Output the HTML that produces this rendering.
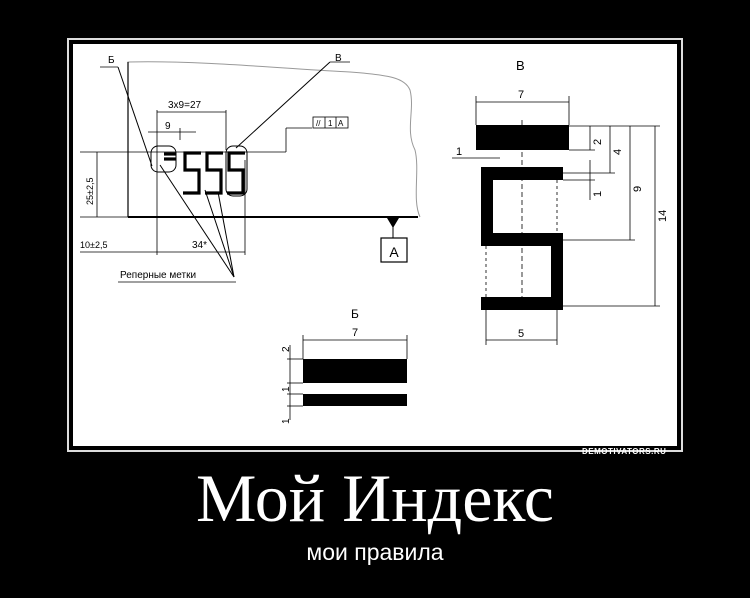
<!DOCTYPE html>
<html><head><meta charset="utf-8"><style>
html,body{margin:0;padding:0;background:#000;width:750px;height:598px;overflow:hidden}
.t{position:absolute;left:0;width:750px;text-align:center;color:#fff;white-space:nowrap}
</style></head><body>
<div style="position:absolute;left:67px;top:38px;width:612px;height:410px;border:2px solid #ddd;"></div>
<div style="position:absolute;left:73px;top:44px;width:604px;height:402px;background:#fff;"></div>
<div style="position:absolute;left:582px;top:447px;font:bold 8px 'Liberation Sans',sans-serif;color:#fff;letter-spacing:0.5px">DEMOTIVATORS.RU</div>
<svg style="position:absolute;left:0;top:0" width="750" height="598" font-family="Liberation Sans, sans-serif" fill="none" stroke="#000">
<path d="M128 217 V62 C200 60 300 70 350 72 C390 75 405 78 410 90 C415 110 405 130 415 150 C420 170 412 200 420 217" stroke="#999" stroke-width="1"/>
<line x1="128" y1="62" x2="128" y2="217" stroke-width="1.2"/>
<line x1="128" y1="217" x2="418" y2="217" stroke-width="2"/>
<path d="M387 217 L399 217 L393 227 Z" fill="#000"/>
<line x1="393" y1="227" x2="393" y2="238"/>
<rect x="381" y="238" width="26" height="24" stroke-width="1.2"/>
<text x="394" y="257" font-size="14" fill="#000" stroke="none" text-anchor="middle">A</text>
<g stroke-width="3.2">
<path d="M164 154 H176"/><path d="M164 159 H176"/>
<path d="M201 153 H185 V170 H199 V193 H183"/>
<path d="M223 153 H207 V170 H221 V193 H205"/>
<path d="M245 153 H229 V170 H243 V193 H227"/>
</g>
<rect x="151" y="146" width="25" height="26" rx="7"/>
<rect x="226" y="146" width="21" height="50" rx="7"/>
<g stroke-width="0.8">
<line x1="80" y1="152" x2="286" y2="152"/>
<line x1="286" y1="152" x2="286" y2="128"/><line x1="286" y1="128" x2="312" y2="128"/>
<line x1="157" y1="110" x2="157" y2="255"/><line x1="245" y1="160" x2="245" y2="255"/>
<line x1="226" y1="110" x2="226" y2="150"/>
<line x1="157" y1="112" x2="226" y2="112"/>
<line x1="148" y1="132" x2="196" y2="132"/><line x1="180" y1="128" x2="180" y2="140"/>
<line x1="97" y1="152" x2="97" y2="217"/><line x1="80" y1="217" x2="128" y2="217"/>
<line x1="80" y1="252" x2="245" y2="252"/>
<line x1="118" y1="67" x2="152" y2="166" stroke-width="1"/>
<line x1="100" y1="67" x2="118" y2="67"/>
<line x1="330" y1="62" x2="350" y2="62"/>
<line x1="330" y1="62" x2="236" y2="148" stroke-width="1"/>
<line x1="160" y1="165" x2="234" y2="277" stroke-width="1"/>
<line x1="205" y1="190" x2="234" y2="277" stroke-width="1"/>
<line x1="218" y1="192" x2="234" y2="277" stroke-width="1"/>
<line x1="118" y1="282" x2="236" y2="282"/>
</g>
<rect x="313" y="117" width="35" height="11" stroke-width="0.8"/>
<line x1="325" y1="117" x2="325" y2="128" stroke-width="0.8"/><line x1="336" y1="117" x2="336" y2="128" stroke-width="0.8"/>
<g fill="#000" stroke="none" font-size="10">
<text x="316" y="126" font-size="8">//</text><text x="328" y="126" font-size="8">1</text><text x="338" y="126" font-size="8">A</text>
<text x="108" y="63">Б</text><text x="335" y="61">В</text>
<text x="168" y="108">3x9=27</text><text x="165" y="129">9</text>
<text x="80" y="248" font-size="9">10±2,5</text><text x="192" y="248" font-size="10">34*</text>
<text x="120" y="278" font-size="10">Реперные метки</text>
<text transform="translate(93,205) rotate(-90)" font-size="9">25±2,5</text>
</g>
<text x="516" y="70" font-size="13" fill="#000" stroke="none">В</text>
<g fill="#000" stroke="none">
<rect x="476" y="125" width="93" height="25"/>
<rect x="481" y="167" width="82" height="13"/>
<rect x="481" y="167" width="12" height="79"/>
<rect x="481" y="233" width="82" height="13"/>
<rect x="551" y="233" width="12" height="77"/>
<rect x="481" y="297" width="82" height="13"/>
</g>
<g stroke-width="0.8">
<line x1="476" y1="96" x2="476" y2="125"/><line x1="569" y1="96" x2="569" y2="125"/>
<line x1="476" y1="102" x2="569" y2="102"/>
<line x1="569" y1="126" x2="660" y2="126"/>
<line x1="569" y1="150" x2="595" y2="150"/>
<line x1="563" y1="173" x2="615" y2="173"/><line x1="563" y1="180" x2="595" y2="180"/>
<line x1="563" y1="240" x2="635" y2="240"/><line x1="563" y1="306" x2="660" y2="306"/>
<line x1="590" y1="126" x2="590" y2="150"/><line x1="590" y1="160" x2="590" y2="200"/>
<line x1="610" y1="126" x2="610" y2="173"/>
<line x1="630" y1="126" x2="630" y2="240"/>
<line x1="655" y1="126" x2="655" y2="306"/>
<line x1="452" y1="158" x2="500" y2="158"/>
<line x1="486" y1="310" x2="486" y2="345"/><line x1="557" y1="310" x2="557" y2="345"/>
<line x1="486" y1="340" x2="557" y2="340"/>
<line x1="522" y1="120" x2="522" y2="310" stroke-dasharray="5,3"/>
<line x1="486" y1="246" x2="486" y2="297" stroke-dasharray="3,3"/>
<line x1="557" y1="180" x2="557" y2="233" stroke-dasharray="3,3"/>
</g>
<g fill="#000" stroke="none" font-size="11">
<text x="518" y="98">7</text><text x="518" y="337">5</text><text x="456" y="155">1</text>
<text transform="translate(601,145) rotate(-90)">2</text>
<text transform="translate(621,155) rotate(-90)">4</text>
<text transform="translate(601,197) rotate(-90)">1</text>
<text transform="translate(641,192) rotate(-90)">9</text>
<text transform="translate(666,222) rotate(-90)">14</text>
</g>
<g fill="#000" stroke="none">
<rect x="303" y="359" width="104" height="24"/>
<rect x="303" y="394" width="104" height="12"/>
<text x="351" y="318" font-size="12">Б</text><text x="352" y="336" font-size="11">7</text>
<text transform="translate(289,352) rotate(-90)" font-size="10">2</text>
<text transform="translate(289,392) rotate(-90)" font-size="10">1</text>
<text transform="translate(289,424) rotate(-90)" font-size="10">1</text>
</g>
<g stroke-width="0.8">
<line x1="303" y1="335" x2="303" y2="359"/><line x1="407" y1="335" x2="407" y2="359"/>
<line x1="303" y1="340" x2="407" y2="340"/>
<line x1="290" y1="345" x2="290" y2="420"/>
<line x1="287" y1="359" x2="303" y2="359"/><line x1="287" y1="383" x2="303" y2="383"/>
<line x1="287" y1="394" x2="303" y2="394"/><line x1="287" y1="406" x2="303" y2="406"/>
</g>
</svg>
<div class="t" style="top:458px;font:68px/80px 'Liberation Serif',serif;">Мой Индекс</div>
<div class="t" style="top:538px;font:23px/28px 'Liberation Sans',sans-serif;">мои правила</div>
</body></html>
